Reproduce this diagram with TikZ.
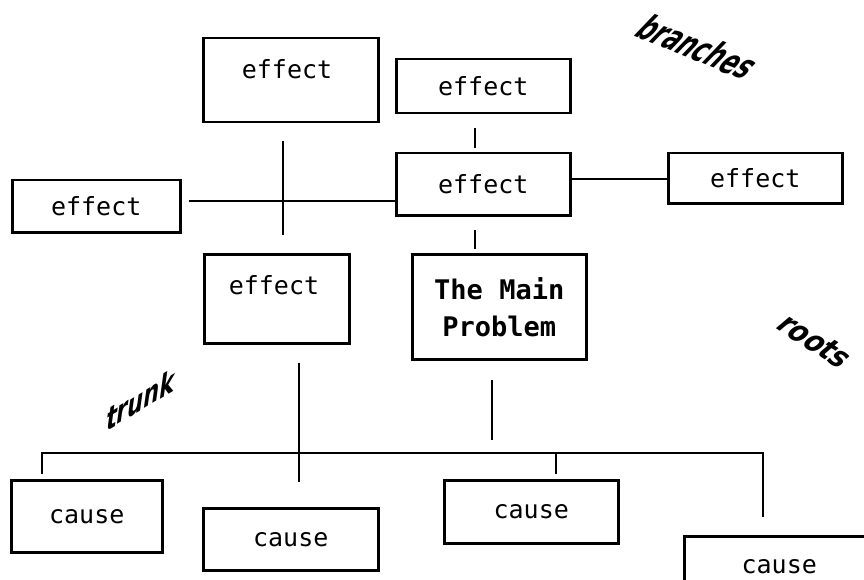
\documentclass[tikz,border=0pt]{standalone}
\usepackage{fontspec}
\setmainfont{DejaVu Sans Mono}
\newfontfamily\artfont{DejaVu Sans}
\begin{document}
\begin{tikzpicture}[x=1pt,y=-1pt,
  box/.style={draw, line width=2.5pt, anchor=north west, inner sep=0pt,
              align=center, font=\fontsize{25}{30}\selectfont},
  lbl/.style={inner sep=0pt, font=\fontsize{25}{30}\selectfont},
  wire/.style={line width=2.1pt},
  art/.style={inner sep=0pt, transform shape, font=\artfont\bfseries}]
\clip (0,0) rectangle (864,580);
\fill[white] (0,0) rectangle (864,580);

% effect boxes (branches)
\node[box, minimum width=175pt, minimum height=84pt] (E1) at (202,37) {};
\node[lbl] (E1t) at (287,69) {effect};
\node[box, minimum width=174pt, minimum height=54pt] (E2) at (395,58) {effect};
\node[box, minimum width=174pt, minimum height=62pt] (E3) at (395,152) {effect};
\node[box, minimum width=168pt, minimum height=52pt] (E4) at (11,179) {effect};
\node[box, minimum width=174pt, minimum height=50pt] (E5) at (667,152) {effect};
\node[box, minimum width=145pt, minimum height=89pt] (E6) at (203,253) {};
\node[lbl] (E6t) at (274,285) {effect};

% the main problem (trunk)
\node[box, minimum width=174pt, minimum height=105pt,
      font=\fontsize{27}{37}\selectfont\bfseries] (MP) at (411,253) {The Main\\Problem};

% cause boxes (roots)
\node[box, minimum width=151pt, minimum height=72pt] (C1) at (10,479) {cause};
\node[box, minimum width=175pt, minimum height=62pt] (C2) at (202,507) {cause};
\node[box, minimum width=174pt, minimum height=63pt] (C3) at (443,479) {cause};
\node[box, minimum width=190pt, minimum height=60pt] (C4) at (683,535) {cause};

% helper coordinates for the connector lines
\coordinate (xa) at (475,0);
\coordinate (xb) at (283,0);
\coordinate (xc) at (299,0);
\coordinate (xd) at (492,0);
\coordinate (xe) at (556,453);
\coordinate (ya) at (0,201);
\coordinate (yb) at (0,179);
\coordinate (mpend) at (492,440);
\coordinate (busL) at (42,453);
\coordinate (busR) at (763,453);

% upper connectors
\draw[wire, shorten <=14pt, shorten >=4pt] (E2.south -| xa) -- (E3.north -| xa);
\draw[wire, shorten <=13pt, shorten >=4pt] (E3.south -| xa) -- (MP.north -| xa);
\draw[wire, shorten <=7pt] (E4.east |- ya) -- (E3.west |- ya);
\draw[wire, shorten <=18pt, shorten >=18pt] (E1.south -| xb) -- (E6.north -| xb);
\draw[wire] (E3.east |- yb) -- (E5.west |- yb);

% trunk and roots
\draw[wire, shorten <=18pt, shorten >=25pt] (E6.south -| xc) -- (C2.north -| xc);
\draw[wire, shorten <=19pt] (MP.south -| xd) -- (mpend);
\draw[wire, shorten <=5pt, shorten >=18pt, line join=miter]
  (C1.north -| busL) -- (busL) -- (busR) -- (C4.north -| busR);
\draw[wire, shorten >=5pt] (xe) -- (C3.north -| xe);

% word-art labels
\begin{scope}[shift={(698,47)}, rotate=-22, xslant=0.4, xscale=0.62]
  \node[art, font=\artfont\bfseries\fontsize{37}{40}\selectfont] (branches) at (0,0) {branches};
\end{scope}
\begin{scope}[shift={(141,399)}, yslant=0.6, xslant=0.15, xscale=0.72]
  \node[art, font=\artfont\bfseries\fontsize{31}{34}\selectfont] (trunk) at (0,0) {trunk};
\end{scope}
\begin{scope}[shift={(815,341)}, rotate=-33, xslant=0.3, xscale=0.85]
  \node[art, font=\artfont\bfseries\fontsize{31}{34}\selectfont] (roots) at (0,0) {roots};
\end{scope}
\end{tikzpicture}
\end{document}
